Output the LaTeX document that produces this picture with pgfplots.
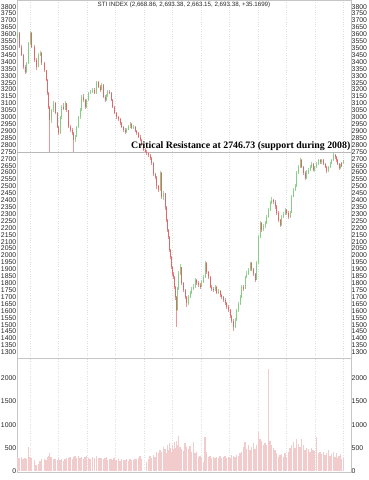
\documentclass[border=0pt]{standalone}
\usepackage{pgfplots}
\pgfplotsset{compat=1.18}
\usepackage{pgfplotstable}
\usepackage{fontspec}
\setmainfont{Liberation Sans}
\newfontfamily\serifb{Liberation Serif}
\definecolor{cred}{RGB}{222,105,105}
\definecolor{cgreen}{RGB}{135,205,135}
\definecolor{wred}{RGB}{232,150,150}
\definecolor{wgreen}{RGB}{160,215,160}
\definecolor{cvol}{RGB}{242,204,204}

\pgfplotstableread{
x o h l c
17.7 3580 3625 3570 3610
26.7 3330 3400 3320 3390
28.3 3390 3545 3385 3535
30.0 3535 3625 3525 3610
38.3 3365 3465 3360 3450
40.0 3450 3480 3440 3465
51.0 2980 3060 2960 3050
53.3 3050 3115 3040 3100
60.0 2885 3010 2880 3000
61.7 3000 3090 2990 3075
65.0 3060 3115 3050 3100
75.0 2835 2875 2820 2860
76.7 2860 2940 2855 2930
78.3 2930 3010 2925 3000
80.0 3000 3065 2990 3050
81.7 3050 3160 3045 3150
86.7 3075 3135 3070 3125
88.3 3125 3185 3120 3175
90.0 3175 3200 3165 3185
92.3 3185 3215 3175 3200
96.7 3175 3265 3170 3255
101.7 3200 3245 3195 3235
106.3 3125 3170 3120 3160
107.7 3160 3200 3150 3185
126.7 2890 2925 2885 2910
128.3 2910 2945 2905 2935
130.0 2935 2965 2925 2950
133.3 2925 2945 2915 2930
160.0 2475 2610 2470 2600
163.3 2425 2470 2400 2450
177.3 1605 1775 1600 1760
178.3 1760 1885 1750 1870
180.0 1870 1940 1860 1915
188.3 1655 1715 1645 1700
190.0 1700 1745 1690 1730
191.7 1730 1770 1720 1760
193.3 1760 1795 1750 1775
195.0 1775 1835 1765 1825
201.7 1775 1825 1770 1810
203.3 1810 1860 1800 1845
205.0 1845 1960 1840 1945
215.0 1750 1790 1740 1775
218.3 1730 1760 1720 1745
235.0 1485 1545 1475 1535
236.7 1535 1615 1530 1605
238.3 1605 1665 1595 1650
240.0 1650 1715 1645 1700
241.7 1700 1785 1690 1775
245.0 1760 1855 1755 1845
246.7 1845 1885 1835 1870
248.3 1870 1910 1860 1895
250.0 1895 1955 1890 1945
256.7 1825 1960 1820 1945
258.3 1945 2150 1940 2135
260.0 2135 2250 2125 2235
263.3 2185 2225 2175 2210
265.0 2210 2250 2200 2235
266.7 2235 2295 2225 2280
268.3 2280 2345 2270 2330
270.0 2330 2395 2320 2380
271.7 2380 2420 2370 2400
281.7 2220 2295 2215 2280
283.3 2280 2315 2270 2300
285.0 2300 2345 2290 2330
290.0 2280 2325 2270 2310
291.7 2310 2435 2305 2425
293.3 2425 2490 2420 2475
295.0 2475 2515 2470 2500
296.7 2500 2610 2495 2600
298.3 2600 2655 2590 2640
300.0 2640 2705 2630 2690
306.7 2560 2615 2555 2600
308.3 2600 2635 2590 2620
310.0 2620 2655 2610 2640
311.7 2640 2680 2630 2665
314.3 2620 2650 2605 2640
316.7 2640 2680 2635 2665
318.3 2665 2700 2655 2690
321.7 2675 2700 2665 2690
328.3 2610 2650 2605 2640
330.0 2640 2680 2635 2665
331.7 2665 2700 2660 2690
333.3 2690 2740 2685 2725
340.3 2630 2660 2625 2645
343.3 2668.86 2693.38 2663.15 2693.38
}\up

\pgfplotstableread{
x o h l c
19.0 3610 3615 3500 3510
21.7 3510 3520 3440 3450
23.0 3450 3460 3350 3365
25.0 3365 3375 3310 3330
31.7 3610 3615 3500 3510
34.3 3510 3520 3400 3415
36.0 3415 3425 3345 3365
41.7 3465 3470 3380 3390
44.3 3390 3400 3325 3340
46.0 3340 3345 3260 3270
47.3 3270 3280 3160 3175
48.3 3175 3180 3060 3075
49.3 3075 3085 2750 2980
55.0 3100 3110 3020 3030
57.7 3030 3040 2920 2930
58.3 2930 2940 2870 2885
63.3 3075 3100 3050 3060
66.7 3100 3105 3040 3050
68.3 3050 3055 2920 2930
70.0 2930 2945 2895 2910
72.3 2910 2920 2870 2885
73.3 2885 2890 2750 2835
83.3 3150 3165 3110 3125
85.0 3125 3130 3060 3075
94.3 3200 3210 3165 3175
98.3 3255 3260 3210 3220
100.0 3220 3230 3185 3200
103.3 3235 3240 3140 3150
105.0 3150 3160 3110 3125
109.3 3185 3195 3165 3175
111.0 3175 3180 3115 3125
112.3 3125 3130 3065 3075
114.0 3075 3080 3020 3030
116.0 3030 3040 2990 3000
118.3 3000 3010 2975 2990
120.0 2990 2995 2945 2955
121.7 2955 2965 2920 2930
123.3 2930 2940 2895 2910
125.0 2910 2920 2880 2890
131.7 2950 2960 2915 2925
135.0 2930 2935 2890 2900
136.7 2900 2910 2870 2885
138.3 2885 2890 2850 2860
140.0 2860 2870 2825 2835
141.7 2835 2845 2790 2800
143.3 2800 2810 2755 2765
145.0 2765 2775 2740 2750
146.7 2750 2760 2725 2740
148.3 2740 2750 2710 2725
150.0 2725 2735 2690 2705
151.7 2705 2715 2655 2670
153.3 2670 2675 2575 2590
155.0 2590 2600 2550 2570
156.7 2570 2575 2480 2500
158.3 2500 2510 2460 2475
161.7 2600 2605 2410 2425
165.0 2450 2455 2330 2350
166.0 2350 2360 2240 2255
167.3 2255 2265 2170 2185
168.3 2185 2195 2120 2135
169.3 2135 2140 2025 2040
170.3 2040 2050 1975 1990
171.3 1990 2000 1900 1915
172.3 1915 1925 1855 1870
173.3 1870 1880 1830 1845
174.3 1845 1855 1760 1775
175.3 1775 1780 1680 1700
176.3 1700 1710 1485 1605
181.7 1915 1920 1790 1800
183.3 1800 1810 1735 1750
185.0 1750 1760 1685 1700
186.7 1700 1710 1630 1655
196.7 1825 1830 1785 1800
198.3 1800 1815 1775 1790
200.0 1790 1800 1760 1775
206.7 1945 1950 1870 1880
208.3 1880 1890 1830 1845
210.0 1845 1850 1765 1775
211.7 1775 1785 1745 1760
213.3 1760 1775 1735 1750
216.7 1775 1780 1720 1730
220.0 1745 1750 1700 1715
221.7 1715 1725 1685 1700
223.3 1700 1710 1665 1680
225.0 1680 1690 1640 1655
226.7 1655 1665 1615 1630
228.3 1630 1640 1590 1605
230.0 1605 1615 1545 1560
231.7 1560 1570 1510 1530
233.3 1530 1540 1456 1485
243.3 1775 1790 1740 1760
251.7 1945 1950 1890 1900
253.3 1900 1910 1855 1870
255.0 1870 1875 1810 1825
261.7 2235 2245 2170 2185
273.3 2400 2410 2375 2390
275.0 2390 2400 2340 2355
276.7 2355 2365 2295 2310
278.3 2310 2320 2240 2255
280.0 2255 2265 2205 2220
286.7 2330 2340 2295 2310
288.3 2310 2320 2265 2280
301.7 2690 2695 2630 2640
303.3 2640 2650 2585 2600
305.0 2600 2610 2545 2560
313.0 2665 2670 2610 2620
320.0 2690 2700 2665 2675
323.3 2690 2695 2655 2665
325.0 2665 2670 2630 2640
326.7 2640 2645 2600 2610
335.0 2725 2735 2700 2710
336.3 2710 2720 2680 2690
337.7 2690 2695 2655 2665
339.0 2665 2670 2620 2630
341.7 2670 2675 2640 2650
}\dn

\pgfplotstableread{
x v
17.7 310
19.0 280
21.7 300
23.0 250
25.0 290
26.7 260
28.3 520
30.0 300
31.7 280
34.3 230
36.0 120
38.3 150
40.0 220
41.7 250
44.3 260
46.0 240
47.3 300
48.3 320
49.3 380
51.0 300
53.3 260
55.0 250
57.7 240
58.3 280
60.0 230
61.7 260
63.3 220
65.0 250
66.7 270
68.3 280
70.0 310
72.3 260
73.3 300
75.0 320
76.7 280
78.3 330
80.0 270
81.7 310
83.3 260
85.0 300
86.7 330
88.3 290
90.0 260
92.3 300
94.3 280
96.7 320
98.3 270
100.0 280
101.7 290
103.3 250
105.0 270
106.3 300
107.7 240
109.3 260
111.0 250
112.3 230
114.0 270
116.0 240
118.3 260
120.0 220
121.7 250
123.3 240
125.0 230
126.7 260
128.3 220
130.0 250
131.7 240
133.3 230
135.0 250
136.7 260
138.3 280
140.0 320
141.7 250
143.3 0
145.0 0
146.7 200
148.3 250
150.0 320
151.7 280
153.3 350
155.0 300
156.7 420
158.3 380
160.0 450
161.7 400
163.3 520
165.0 480
166.0 380
167.3 560
168.3 450
169.3 600
170.3 500
171.3 420
172.3 550
173.3 480
174.3 620
175.3 500
176.3 650
177.3 560
178.3 760
180.0 520
181.7 480
183.3 430
185.0 600
186.7 520
188.3 470
190.0 540
191.7 400
193.3 630
195.0 380
196.7 420
198.3 300
200.0 330
201.7 280
203.3 200
205.0 740
206.7 420
208.3 300
210.0 330
211.7 280
213.3 310
215.0 270
216.7 300
218.3 290
220.0 320
221.7 280
223.3 300
225.0 330
226.7 290
228.3 310
230.0 280
231.7 340
233.3 320
235.0 300
236.7 350
238.3 330
240.0 380
241.7 420
243.3 520
245.0 630
246.7 480
248.3 560
250.0 450
251.7 520
253.3 600
255.0 480
256.7 560
258.3 840
260.0 700
261.7 650
263.3 560
265.0 600
266.7 560
268.3 2210
270.0 650
271.7 560
273.3 500
275.0 450
276.7 380
278.3 300
280.0 340
281.7 360
283.3 300
285.0 380
286.7 300
288.3 420
290.0 500
291.7 560
293.3 620
295.0 500
296.7 700
298.3 580
300.0 520
301.7 700
303.3 560
305.0 450
306.7 500
308.3 480
310.0 420
311.7 500
313.0 460
314.3 440
316.7 740
318.3 380
320.0 420
321.7 360
323.3 400
325.0 340
326.7 380
328.3 460
330.0 330
331.7 360
333.3 420
335.0 300
336.3 380
337.7 280
339.0 320
340.3 360
341.7 250
343.3 290
}\vol

\pgfplotsset{
  base/.style={
    scale only axis, width=334pt, xmin=17, xmax=351, anchor=south west,
    major tick length=0pt,
    tick label style={font=\fontsize{6.9}{7.5}\selectfont, text=black!85, inner sep=0.5pt},
    xtick={30,58.5,87,115.5,144,172.5,201,229.5,258,286.5,315,343.5},
    xticklabels={},
    grid style={gray!25, dotted},
    /pgf/number format/assume math mode=true,
    /pgf/number format/1000 sep={},
  },
  candle/.style={draw=none, mark=none, no markers, forget plot,
    error bars/.cd, y dir=plus, y explicit, error mark=none,
    error bar style={draw=#1, line width=0.6pt}},
  body/.style={draw=none, mark=none, no markers, forget plot,
    error bars/.cd, y dir=plus, y explicit, error mark=none,
    error bar style={draw=#1, line width=0.95pt}},
}

\begin{document}
\begin{tikzpicture}
\useasboundingbox (0pt,0pt) rectangle (369pt,480pt);

% price panel
\begin{axis}[base, at={(17pt,122pt)}, height=358pt,
  ymin=1259, ymax=3848, ytick={1300,1350,...,3800},
  xmajorgrids, axis line style={gray!45}]
  \addplot[gray!55, line width=0.8pt, forget plot] coordinates {(17,2746.73) (351,2746.73)};
  \addplot[candle=wgreen] table[x=x, y=l, y error plus expr=\thisrow{h}-\thisrow{l}] {\up};
  \addplot[candle=wred] table[x=x, y=l, y error plus expr=\thisrow{h}-\thisrow{l}] {\dn};
  \addplot[body=cgreen] table[x=x, y=o, y error plus expr=\thisrow{c}-\thisrow{o}] {\up};
  \addplot[body=cred] table[x=x, y=c, y error plus expr=\thisrow{o}-\thisrow{c}] {\dn};
  \node[anchor=base east, inner sep=0pt, font=\serifb\bfseries\fontsize{9.85}{11}\selectfont]
    at (axis cs:350.5,2746.73) [yshift=3.3pt] {Critical Resistance at 2746.73 (support during 2008)};
  \node[anchor=north, inner sep=0pt, font=\fontsize{6.2}{7}\selectfont, text=black!85]
    at (rel axis cs:0.5,1) [yshift=-2pt] {STI INDEX (2,668.86, 2,693.38, 2,663.15, 2,693.38, +35.1699)};
\end{axis}
\begin{axis}[base, at={(17pt,122pt)}, height=358pt,
  ymin=1259, ymax=3848, ytick={1300,1350,...,3800},
  yticklabel pos=right, xtick=\empty, axis line style={draw=none}]
\end{axis}

% volume panel
\begin{axis}[base, at={(17pt,8pt)}, height=114pt,
  ymin=-22, ymax=2438, ytick={0,500,1000,1500,2000},
  xmajorgrids, axis line style={gray!45}]
  \addplot[ycomb, draw=cvol, line width=1.5pt, mark=none] table[x=x, y=v] {\vol};
  \node[anchor=north east, inner sep=0pt, font=\fontsize{4.5}{5}\selectfont, text=black!80]
    at (rel axis cs:0,0) [yshift=-2pt, xshift=-0.5pt] {x10000};
  \node[anchor=north west, inner sep=0pt, font=\fontsize{4.5}{5}\selectfont, text=black!80]
    at (rel axis cs:1,0) [yshift=-2pt, xshift=0.5pt] {x10000};
\end{axis}
\begin{axis}[base, at={(17pt,8pt)}, height=114pt,
  ymin=-22, ymax=2438, ytick={0,500,1000,1500,2000},
  yticklabel pos=right, xtick=\empty, axis line style={draw=none}]
\end{axis}
\end{tikzpicture}
\end{document}
